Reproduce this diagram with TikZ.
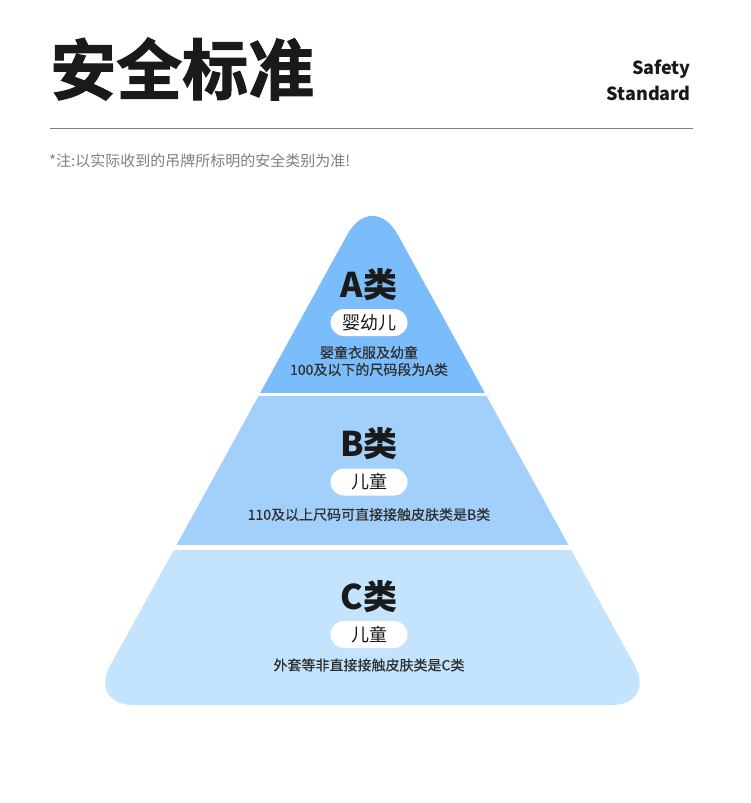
\documentclass[tikz,border=0pt]{standalone}
\usepackage{fontspec}
\setmainfont{Noto Sans CJK SC}
\newfontfamily\titlefont{Noto Sans CJK SC}[UprightFont=* Bold, FakeBold=1.6]
\newfontfamily\descfont{Noto Sans CJK SC}[FakeBold=0.5]
\definecolor{tierA}{HTML}{7BBDFA}
\definecolor{tierB}{HTML}{A3D0FB}
\definecolor{tierC}{HTML}{C4E3FD}
\definecolor{ink}{HTML}{1A1A1A}
\definecolor{desc}{HTML}{2E2E2E}
\definecolor{note}{HTML}{808080}
\definecolor{rule}{HTML}{7F7F7F}
\tikzset{
  tierlabel/.style={font=\fontsize{34}{34}\selectfont\bfseries, text=ink, inner sep=0pt},
  pill/.style={fill=white, rounded corners=13.5pt, minimum width=77pt, minimum height=27pt, inner sep=0pt, font=\fontsize{18}{18}\selectfont, text=ink},
  desctext/.style={font=\descfont\fontsize{14}{17}\selectfont, text=desc, align=center, inner sep=0pt},
}
\begin{document}
\begin{tikzpicture}[x=1pt,y=-1pt]
\useasboundingbox (0,0) rectangle (750,803);
\fill[white] (0,0) rectangle (750,803);

% header
\node[anchor=west, inner sep=0pt, font=\titlefont\fontsize{66}{66}\selectfont, text=ink] (title) at (50,69) {安全标准};
\node[anchor=east, inner sep=0pt, align=right, font=\fontsize{18}{26}\selectfont\bfseries, text=ink] (en) at (691,80) {Safety\\Standard};
\coordinate (l1) at (50,128);
\coordinate (l2) at (693,128);
\draw[rule, line width=1pt] (l1) -- (l2);
\node[anchor=west, inner sep=0pt, font=\fontsize{15}{15}\selectfont, text=note] (remark) at (49,161) {*注:以实际收到的吊牌所标明的安全类别为准!};

% pyramid
\begin{scope}
\clip (133.5,705) -- (611.5,705) .. controls (636.4,705) and (646.8,687.4) .. (634.8,665.6)
  -- (398.0,235.1) .. controls (383.9,209.5) and (361.1,209.5) .. (347.0,235.1)
  -- (110.2,665.6) .. controls (98.2,687.4) and (108.6,705) .. (133.5,705) -- cycle;
\fill[tierA] (0,150) rectangle (750,392.5);
\fill[tierB] (0,396) rectangle (750,545);
\fill[tierC] (0,550) rectangle (750,720);
\end{scope}

% tier A
\node[tierlabel] (la) at (369,284.5) {A类};
\node[pill] (pa) at (369,322.5) {婴幼儿};
\node[desctext] (da) at (369,361) {婴童衣服及幼童\\100及以下的尺码段为A类};

% tier B
\node[tierlabel] (lb) at (369,444) {B类};
\node[pill] (pb) at (369,482) {儿童};
\node[desctext] (db) at (369,514.5) {110及以上尺码可直接接触皮肤类是B类};

% tier C
\node[tierlabel] (lc) at (369,597) {C类};
\node[pill] (pc) at (369,634.5) {儿童};
\node[desctext] (dc) at (369,665) {外套等非直接接触皮肤类是C类};
\end{tikzpicture}
\end{document}
